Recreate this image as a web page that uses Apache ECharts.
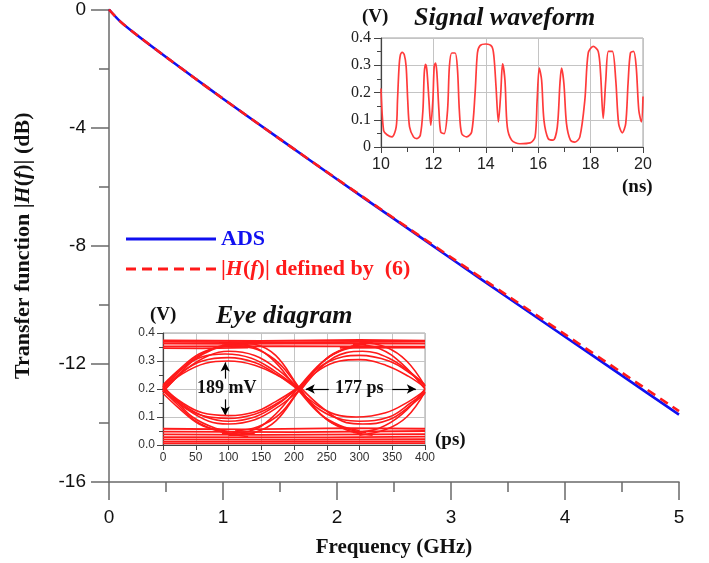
<!DOCTYPE html>
<html>
<head>
<meta charset="utf-8">
<script src="https://cdn.jsdelivr.net/npm/echarts@6/dist/echarts.min.js"></script>
<style>
  html, body { margin: 0; padding: 0; background: #fff; }
  #main { width: 709px; height: 563px; }
</style>
</head>
<body>
<div id="main"></div>
<script>
// 主图：传递函数 (GHz, dB)
var freqGHz = [0, 0.1, 0.25, 0.5, 0.75, 1, 1.5, 2, 2.5, 3, 3.5, 4, 4.5, 5];
var adsDB   = [0, -0.41, -0.88, -1.61, -2.32, -3.02, -4.39, -5.75, -7.09, -8.43, -9.76, -11.08, -12.40, -13.72];
var eq6DB   = [0, -0.41, -0.88, -1.61, -2.32, -3.02, -4.39, -5.74, -7.07, -8.39, -9.70, -11.00, -12.30, -13.60];
var seriesNames = ['ADS', '|H(f)| defined by (6)'];

// 小图1：信号波形 [ns, V]
var waveform = [
    [10.0, 0.215], [10.10, 0.06], [10.23, 0.045], [10.42, 0.037], [10.58, 0.074], [10.63, 0.172],
    [10.69, 0.295], [10.74, 0.338], [10.81, 0.347], [10.89, 0.338], [10.96, 0.295], [11.02, 0.172],
    [11.09, 0.074], [11.24, 0.037], [11.37, 0.031], [11.50, 0.043], [11.60, 0.135], [11.65, 0.27],
    [11.70, 0.303], [11.75, 0.283], [11.83, 0.172], [11.90, 0.08], [11.98, 0.172], [12.03, 0.295],
    [12.08, 0.308], [12.13, 0.277], [12.21, 0.135], [12.28, 0.055], [12.41, 0.049], [12.54, 0.135],
    [12.61, 0.295], [12.70, 0.345], [12.83, 0.345], [12.92, 0.283], [12.99, 0.135], [13.08, 0.049],
    [13.27, 0.037], [13.46, 0.055], [13.59, 0.197], [13.68, 0.345], [13.78, 0.372], [14.00, 0.378],
    [14.23, 0.369], [14.31, 0.332], [14.39, 0.222], [14.48, 0.092], [14.57, 0.197], [14.64, 0.305],
    [14.73, 0.246], [14.82, 0.074], [14.99, 0.025], [15.30, 0.012], [15.69, 0.015], [15.88, 0.037],
    [15.96, 0.172], [16.04, 0.29], [16.13, 0.246], [16.22, 0.098], [16.38, 0.031], [16.57, 0.025],
    [16.73, 0.074], [16.83, 0.234], [16.89, 0.29], [16.98, 0.234], [17.08, 0.086], [17.23, 0.025],
    [17.40, 0.018], [17.59, 0.037], [17.78, 0.172], [17.91, 0.345], [18.10, 0.369], [18.29, 0.351],
    [18.38, 0.271], [18.48, 0.105], [18.58, 0.246], [18.68, 0.351], [18.83, 0.351], [18.96, 0.246],
    [19.07, 0.086], [19.21, 0.052], [19.34, 0.086], [19.43, 0.234], [19.52, 0.345], [19.64, 0.351],
    [19.74, 0.295], [19.84, 0.135], [19.94, 0.092], [20.00, 0.185]
];

// 小图2：眼图，水平带 [ps, V]
var eyeBands = [
    [[0, 0.374], [150, 0.372], [300, 0.375], [400, 0.373]],
    [[0, 0.368], [200, 0.367], [400, 0.369]],
    [[0, 0.362], [110, 0.361], [260, 0.363], [400, 0.362]],
    [[0, 0.352], [180, 0.353], [400, 0.351]],
    [[0, 0.346], [60, 0.345], [130, 0.348]],
    [[270, 0.347], [400, 0.348]],
    [[0, 0.058], [120, 0.056], [280, 0.06], [400, 0.058]],
    [[0, 0.048], [200, 0.046], [400, 0.05]],
    [[0, 0.038], [150, 0.036], [400, 0.039]],
    [[0, 0.028], [250, 0.027], [400, 0.03]],
    [[0, 0.02], [200, 0.019], [400, 0.021]],
    [[0, 0.012], [400, 0.013]],
    [[0, 0.006], [400, 0.007]]
];
// 眼图，跳变轨迹 [ps, V]
var eyeTraces = [
    // 0 处上升
    [[0, 0.19], [20, 0.24], [45, 0.3], [75, 0.34], [105, 0.356], [140, 0.362]],
    [[0, 0.205], [22, 0.255], [48, 0.31], [80, 0.348], [115, 0.365], [150, 0.37]],
    [[0, 0.215], [25, 0.27], [55, 0.325], [90, 0.352], [130, 0.358]],
    // 0 处下降
    [[0, 0.21], [20, 0.16], [45, 0.1], [80, 0.06], [110, 0.045], [140, 0.04]],
    [[0, 0.195], [22, 0.145], [50, 0.085], [85, 0.05], [120, 0.035]],
    [[0, 0.185], [25, 0.13], [55, 0.075], [95, 0.045], [130, 0.03]],
    // 第一个眼 上弧
    [[0, 0.2], [30, 0.262], [60, 0.3], [100, 0.312], [140, 0.295], [175, 0.25], [205, 0.2]],
    [[0, 0.21], [30, 0.275], [60, 0.315], [95, 0.325], [135, 0.31], [170, 0.265], [205, 0.205]],
    [[0, 0.19], [35, 0.27], [70, 0.32], [100, 0.335], [140, 0.32], [175, 0.27], [210, 0.195]],
    [[0, 0.2], [30, 0.255], [65, 0.292], [100, 0.3], [140, 0.285], [178, 0.245], [208, 0.2]],
    // 第一个眼 下弧
    [[0, 0.2], [30, 0.14], [60, 0.105], [100, 0.095], [140, 0.11], [175, 0.15], [205, 0.2]],
    [[0, 0.21], [30, 0.145], [65, 0.1], [100, 0.085], [140, 0.1], [175, 0.145], [205, 0.205]],
    [[0, 0.195], [35, 0.13], [70, 0.085], [100, 0.075], [140, 0.09], [178, 0.14], [210, 0.2]],
    [[0, 0.205], [30, 0.15], [60, 0.115], [100, 0.105], [140, 0.118], [172, 0.155], [203, 0.2]],
    // 205 处下降
    [[90, 0.362], [130, 0.355], [165, 0.31], [205, 0.2], [240, 0.11], [270, 0.07], [300, 0.052]],
    [[100, 0.368], [140, 0.36], [172, 0.32], [208, 0.205], [245, 0.1], [278, 0.06], [310, 0.045]],
    [[110, 0.355], [145, 0.34], [178, 0.29], [212, 0.19], [248, 0.095], [285, 0.05], [320, 0.035]],
    // 205 处上升
    [[90, 0.04], [130, 0.048], [165, 0.095], [205, 0.2], [240, 0.29], [270, 0.335], [300, 0.352]],
    [[100, 0.035], [140, 0.045], [172, 0.085], [208, 0.195], [245, 0.3], [278, 0.345], [310, 0.36]],
    [[110, 0.05], [145, 0.065], [178, 0.11], [212, 0.21], [248, 0.305], [285, 0.35], [320, 0.365]],
    // 第二个眼 上弧
    [[205, 0.2], [240, 0.27], [270, 0.3], [300, 0.305], [340, 0.285], [375, 0.245], [400, 0.205]],
    [[208, 0.205], [240, 0.28], [275, 0.315], [300, 0.32], [345, 0.3], [378, 0.255], [400, 0.21]],
    [[210, 0.195], [245, 0.285], [280, 0.33], [305, 0.335], [345, 0.31], [380, 0.255], [400, 0.215]],
    // 第二个眼 下弧
    [[205, 0.2], [240, 0.135], [270, 0.105], [295, 0.1], [340, 0.115], [375, 0.155], [400, 0.195]],
    [[208, 0.195], [240, 0.125], [275, 0.09], [300, 0.085], [345, 0.1], [378, 0.15], [400, 0.19]],
    [[210, 0.205], [245, 0.13], [280, 0.08], [305, 0.075], [345, 0.09], [380, 0.145], [400, 0.185]],
    // 400 处跳变
    [[290, 0.36], [330, 0.345], [365, 0.29], [400, 0.2]],
    [[300, 0.368], [340, 0.35], [372, 0.3], [400, 0.21]],
    [[290, 0.045], [330, 0.06], [365, 0.11], [400, 0.2]],
    [[300, 0.035], [340, 0.055], [372, 0.1], [400, 0.19]]
];

var SERIF = '"Liberation Serif", "Times New Roman", serif';
var SANS = '"Liberation Sans", Arial, sans-serif';
var RED = '#ff1a1a';
var BLUE = '#1010f0';
var AXIS = '#6a6a6a';

function zip(xs, ys) {
    var d = [];
    for (var i = 0; i < xs.length; i++) d.push([xs[i], ys[i]]);
    return d;
}

var chart = echarts.init(document.getElementById('main'));

var series = [
    {
        name: seriesNames[0], type: 'line', xAxisIndex: 0, yAxisIndex: 0,
        data: zip(freqGHz, adsDB), smooth: 0.3, symbol: 'none',
        lineStyle: { color: BLUE, width: 2.6 }, itemStyle: { color: BLUE }, z: 3
    },
    {
        name: seriesNames[1], type: 'line', xAxisIndex: 0, yAxisIndex: 0,
        data: zip(freqGHz, eq6DB), smooth: 0.3, symbol: 'none',
        lineStyle: { color: RED, width: 2.6, type: [9, 6] }, itemStyle: { color: RED }, z: 4
    },
    {
        type: 'line', xAxisIndex: 1, yAxisIndex: 1, data: waveform, smooth: 0.3,
        symbol: 'none', lineStyle: { color: '#ff3b3b', width: 1.7 }, z: 5
    }
];

eyeBands.forEach(function (d) {
    series.push({
        type: 'line', xAxisIndex: 2, yAxisIndex: 2, data: d, symbol: 'none',
        lineStyle: { color: RED, width: 1.8 }, z: 5, silent: true
    });
});
eyeTraces.forEach(function (d, i) {
    var s = {
        type: 'line', xAxisIndex: 2, yAxisIndex: 2, data: d, symbol: 'none', smooth: 0.4,
        lineStyle: { color: RED, width: 1.6 }, z: 5, silent: true
    };
    if (i === 0) {
        // 标注箭头 189 mV / 177 ps
        s.markLine = {
            silent: true, symbol: ['none', 'arrow'], symbolSize: [7, 9],
            lineStyle: { color: '#000', width: 1.2, type: 'solid' }, label: { show: false },
            data: [
                [{ coord: [95, 0.237] }, { coord: [95, 0.295] }],
                [{ coord: [95, 0.163] }, { coord: [95, 0.105] }],
                [{ coord: [253, 0.2] }, { coord: [218, 0.2] }],
                [{ coord: [350, 0.2] }, { coord: [386, 0.2] }]
            ]
        };
    }
    series.push(s);
});

var insetGrid = { show: true, backgroundColor: '#fff', borderColor: '#a0a0a0', borderWidth: 1 };

var option = {
    backgroundColor: '#fff',
    animation: false,
    grid: [
        { left: 109, top: 7, width: 570, height: 476 },
        Object.assign({ left: 381, top: 38, width: 262, height: 109 }, insetGrid),
        Object.assign({ left: 163, top: 333, width: 262, height: 112 }, insetGrid)
    ],
    legend: {
        left: 121, top: 223, orient: 'vertical', itemWidth: 90, itemHeight: 3, itemGap: 8,
        selectedMode: false,
        data: [
            { name: seriesNames[0], icon: 'rect' },
            { name: seriesNames[1], icon: 'path://M0,0H10V3H0Z M16,0H26V3H16Z M32,0H42V3H32Z M48,0H58V3H48Z M64,0H74V3H64Z M80,0H90V3H80Z' }
        ],
        textStyle: {
            fontFamily: SERIF, fontWeight: 'bold', fontSize: 22,
            rich: {
                b: { color: BLUE, fontFamily: SERIF, fontWeight: 'bold', fontSize: 22 },
                r: { color: RED, fontFamily: SERIF, fontWeight: 'bold', fontSize: 22 },
                ri: { color: RED, fontFamily: SERIF, fontWeight: 'bold', fontStyle: 'italic', fontSize: 22 }
            }
        },
        formatter: function (name) {
            if (name === 'ADS') return '{b|ADS}';
            return '{r||}{ri|H}{r|(}{ri|f}{r|)| defined by  (6)}';
        }
    },
    xAxis: [
        {
            gridIndex: 0, type: 'value', min: 0, max: 5, interval: 1,
            name: 'Frequency (GHz)', nameLocation: 'middle', nameGap: 55,
            nameTextStyle: { fontFamily: SERIF, fontWeight: 'bold', fontSize: 21, color: '#111' },
            axisLine: { onZero: false, lineStyle: { color: AXIS, width: 1.5 } },
            axisTick: { length: 18, lineStyle: { color: AXIS, width: 1.5 } },
            minorTick: { show: true, splitNumber: 2, length: 10, lineStyle: { color: AXIS, width: 1.5 } },
            axisLabel: { margin: 26, fontFamily: SANS, fontSize: 19, color: '#111' },
            splitLine: { show: false }
        },
        {
            gridIndex: 1, type: 'value', min: 10, max: 20, interval: 2,
            axisLine: { onZero: false, lineStyle: { color: '#444', width: 1.2 } },
            axisTick: { length: 6, lineStyle: { color: '#444' } },
            minorTick: { show: true, splitNumber: 2, length: 5, lineStyle: { color: '#444' } },
            axisLabel: { margin: 10, fontFamily: SANS, fontSize: 16, color: '#222' },
            splitLine: { lineStyle: { color: '#c4c4c4' } }
        },
        {
            gridIndex: 2, type: 'value', min: 0, max: 400, interval: 50,
            axisLine: { onZero: false, lineStyle: { color: '#444', width: 1.2 } },
            axisTick: { length: 5, lineStyle: { color: '#444' } },
            axisLabel: { margin: 7, fontFamily: SANS, fontSize: 12, color: '#333' },
            splitLine: { lineStyle: { color: '#c4c4c4' } }
        }
    ],
    yAxis: [
        {
            gridIndex: 0, type: 'value', min: -16, max: 0, interval: 4,
            name: 'Transfer function |{i|H}({i|f})| (dB)', nameLocation: 'middle', nameGap: 75,
            nameTextStyle: {
                fontFamily: SERIF, fontWeight: 'bold', fontSize: 22, color: '#111',
                rich: { i: { fontFamily: SERIF, fontWeight: 'bold', fontStyle: 'italic', fontSize: 22, color: '#111' } }
            },
            axisLine: { onZero: false, lineStyle: { color: AXIS, width: 1.5 } },
            axisTick: { length: 18, lineStyle: { color: AXIS, width: 1.5 } },
            minorTick: { show: true, splitNumber: 2, length: 10, lineStyle: { color: AXIS, width: 1.5 } },
            axisLabel: { margin: 23, fontFamily: SANS, fontSize: 19, color: '#111' },
            splitLine: { show: false }
        },
        {
            gridIndex: 1, type: 'value', min: 0, max: 0.4, interval: 0.1,
            axisLine: { onZero: false, lineStyle: { color: '#444', width: 1.2 } },
            axisTick: { length: 7, lineStyle: { color: '#444' } },
            minorTick: { show: true, splitNumber: 2, length: 4, lineStyle: { color: '#444' } },
            axisLabel: { margin: 10, fontFamily: SERIF, fontSize: 16, color: '#222' },
            splitLine: { lineStyle: { color: '#c4c4c4' } }
        },
        {
            gridIndex: 2, type: 'value', min: 0, max: 0.4, interval: 0.1,
            axisLine: { onZero: false, lineStyle: { color: '#444', width: 1.2 } },
            axisTick: { length: 6, lineStyle: { color: '#444' } },
            minorTick: { show: true, splitNumber: 2, length: 4, lineStyle: { color: '#444' } },
            axisLabel: {
                margin: 8, fontFamily: SANS, fontSize: 12, color: '#333',
                formatter: function (v) { return v.toFixed(1); }
            },
            splitLine: { lineStyle: { color: '#c4c4c4' } }
        }
    ],
    graphic: [
        { type: 'text', left: 362, top: 8, style: { text: '(V)', font: 'bold 19px ' + SERIF, fill: '#111' } },
        { type: 'text', left: 414, top: 5, style: { text: 'Signal waveform', font: 'italic bold 26px ' + SERIF, fill: '#111' } },
        { type: 'text', left: 622, top: 178, style: { text: '(ns)', font: 'bold 19px ' + SERIF, fill: '#111' } },
        { type: 'text', left: 150, top: 306, style: { text: '(V)', font: 'bold 19px ' + SERIF, fill: '#111' } },
        { type: 'text', left: 216, top: 303, style: { text: 'Eye diagram', font: 'italic bold 26px ' + SERIF, fill: '#111' } },
        { type: 'text', left: 435, top: 431, style: { text: '(ps)', font: 'bold 19px ' + SERIF, fill: '#111' } },
        { type: 'text', left: 197, top: 379, z: 20, style: { text: '189 mV', font: 'bold 18px ' + SERIF, fill: '#111' } },
        { type: 'text', left: 335, top: 379, z: 20, style: { text: '177 ps', font: 'bold 18px ' + SERIF, fill: '#111' } }
    ],
    series: series
};

chart.setOption(option);
</script>
</body>
</html>
